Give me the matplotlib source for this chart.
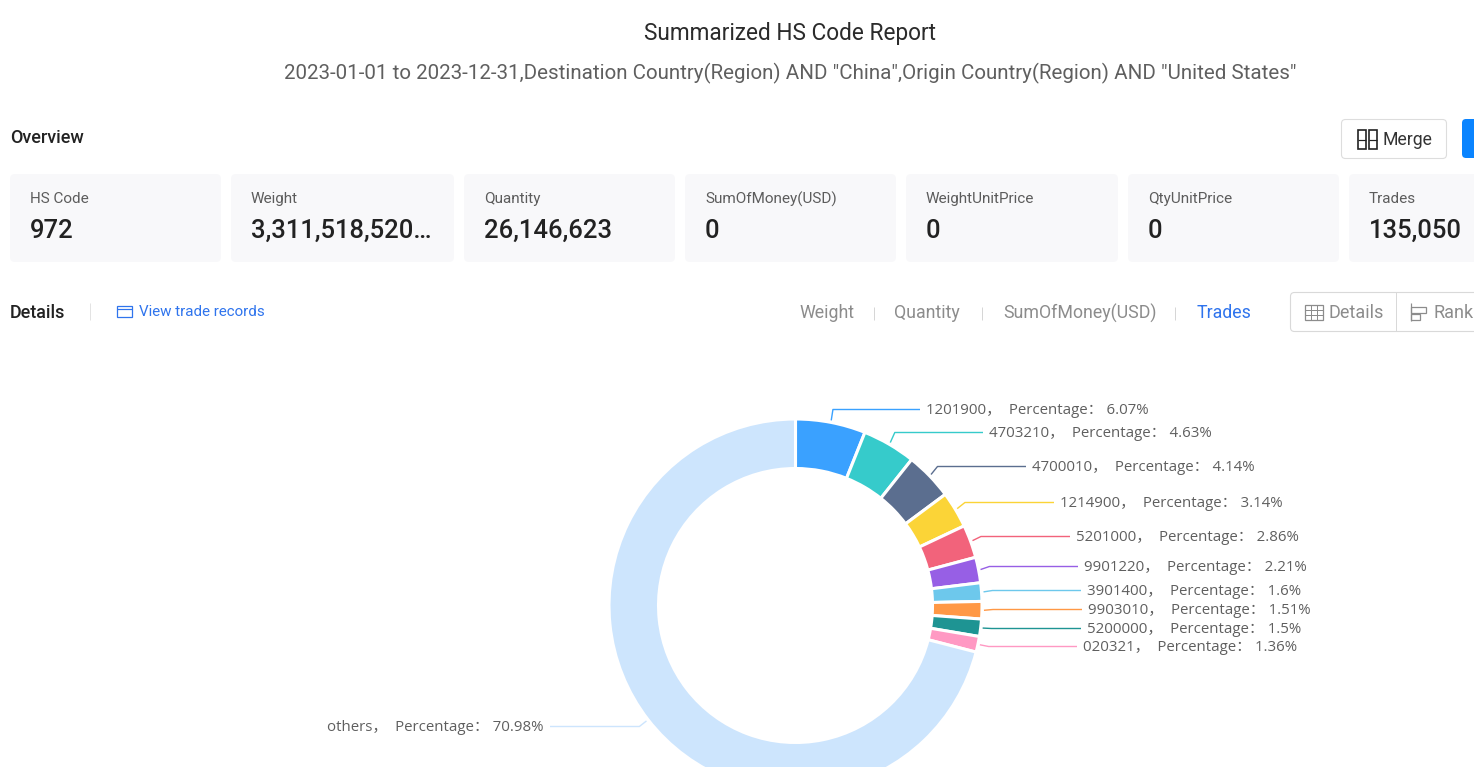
import numpy as np
import matplotlib
matplotlib.use("Agg")
import matplotlib.pyplot as plt
from matplotlib.patches import FancyBboxPatch, Rectangle

W, H = 1474, 767

# ---- data ----
codes = ["1201900", "4703210", "4700010", "1214900", "5201000",
         "9901220", "3901400", "9903010", "5200000", "020321", "others"]
percentages = [6.07, 4.63, 4.14, 3.14, 2.86, 2.21, 1.6, 1.51, 1.5, 1.36, 70.98]
percent_text = ["6.07%", "4.63%", "4.14%", "3.14%", "2.86%", "2.21%",
                "1.6%", "1.51%", "1.5%", "1.36%", "70.98%"]
colors = ["#3AA1FF", "#36CBCB", "#5B6E8F", "#FBD437", "#F2637B", "#975FE5",
          "#6DC8EC", "#FF9845", "#1E9493", "#FF99C3", "#CDE5FD"]
card_titles = ["HS Code", "Weight", "Quantity", "SumOfMoney(USD)",
               "WeightUnitPrice", "QtyUnitPrice", "Trades"]
card_values = ["972", "3,311,518,520…", "26,146,623", "0", "0", "0", "135,050"]
metric_tabs = ["Weight", "Quantity", "SumOfMoney(USD)", "Trades"]

# ---- layout (pixels) ----
cards_x = [(10, 221), (231, 454), (464, 675), (685, 896), (906, 1118), (1128, 1339), (1349, 1500)]
tabs_x = [799, 894.5, 1003, 1197]
label_y = [409, 432, 466, 502, 536, 566, 590, 609, 628, 646, 726]
label_x = [926, 989, 1032, 1060, 1076, 1084, 1087, 1088, 1087, 1083, 544]
line_end = [920, 983, 1026, 1054, 1070, 1078, 1081, 1082, 1081, 1077, 550]
cx, cy, R, r = 795.5, 605.5, 186.5, 137

plt.rcParams["font.family"] = ["Roboto", "DejaVu Sans"]
fig = plt.figure(figsize=(W / 100, H / 100), dpi=100, facecolor="white")
ax = fig.add_axes([0, 0, 1, 1])
Y = lambda py: H - py


def T(x, y, s, size, color="#333333", ha="left", weight="normal", family=None, **kw):
    if family:
        kw["family"] = family
    return ax.text(x, Y(y), s, fontsize=size * 0.72, color=color, ha=ha, va="center",
                   fontweight=weight, **kw)


def L(xs, ys, color, lw=1.0, **kw):
    ax.plot(xs, [Y(v) for v in ys], color=color, lw=lw * 0.72, solid_capstyle="butt", **kw)


def RR(x0, y0, x1, y1, rad, fc, ec="none", lw=0):
    ax.add_patch(FancyBboxPatch((x0 + rad, Y(y1) + rad), x1 - x0 - 2 * rad, y1 - y0 - 2 * rad,
                                boxstyle=f"round,pad={rad},rounding_size={rad}",
                                fc=fc, ec=ec, lw=lw, clip_on=True))


# ---- donut ----
ax.pie(percentages, colors=colors, center=(cx, Y(cy)), radius=R, startangle=90,
       counterclock=False, wedgeprops=dict(width=R - r, edgecolor="white", linewidth=2.2))
ax.set_xlim(0, W)
ax.set_ylim(0, H)
ax.set_aspect("equal")
ax.axis("off")

# ---- leader lines and labels ----
cum = np.cumsum([0] + percentages[:-1])
for i, (code, p, ptxt) in enumerate(zip(codes, percentages, percent_text)):
    a = np.deg2rad((cum[i] + p / 2) * 3.6)
    sx, sy = cx + (R + 2) * np.sin(a), cy - (R + 2) * np.cos(a)
    ex, ey = cx + (R + 11) * np.sin(a), label_y[i] + 0.5
    L([sx, ex, line_end[i]], [sy, ey, ey], colors[i], lw=1.4)
    txt = f"{code}，  Percentage： {ptxt}"
    T(label_x[i], label_y[i] + 1.6, txt, 15, "#5f5f5f", ha="right" if code == "others" else "left",
      family=["Open Sans", "Noto Sans CJK SC"])

# ---- header ----
T(790, 33.6, "Summarized HS Code Report", 22.6, "#2b2b2b", ha="center")
T(790, 73, '2023-01-01 to 2023-12-31,Destination Country(Region) AND "China",'
           'Origin Country(Region) AND "United States"', 20.5, "#5f5f5f", ha="center")
T(10, 138, "Overview", 18, "#222222", weight="medium")

# ---- buttons ----
RR(1341.5, 119.5, 1446.5, 158.5, 4, "white", "#dddddd", 0.8)
T(1383, 140, "Merge", 17.6, "#333333")
for x in (1358, 1369):
    ax.add_patch(Rectangle((x, Y(149)), 8, 19, fc="none", ec="#222222", lw=1.2))
L([1358, 1366], [139.5, 139.5], "#222222", 1.2)
L([1369, 1377], [139.5, 139.5], "#222222", 1.2)
RR(1462, 119, 1500, 158, 4, "#0A84FF")

# ---- cards ----
for (x0, x1), title, val in zip(cards_x, card_titles, card_values):
    RR(x0, 174, x1, 262, 5, "#F8F8FA")
    T(x0 + 20, 199, title, 15.3, "#5c5c5c")
    T(x0 + 20, 231, val, 25.6, "#222222", weight="medium")

# ---- details row ----
T(10, 313, "Details", 18, "#222222", weight="medium")
L([90, 90], [303, 320], "#e3e3e3")
ax.add_patch(Rectangle((117, Y(317)), 15, 11, fc="none", ec="#2f74ed", lw=0.9))
L([117, 132], [309, 309], "#2f74ed", 1.2)
T(139, 312, "View trade records", 15.1, "#2f74ed")
for x, t in zip(tabs_x, metric_tabs):
    T(x, 313, t, 17.8, "#2f74ed" if t == "Trades" else "#8c8c8c")
for x in (874, 982, 1175):
    L([x, x], [307, 320], "#d6d6d6")
RR(1290.5, 292.5, 1500, 331.5, 4, "white", "#d9d9d9", 0.8)
L([1396.5, 1396.5], [292, 331], "#d9d9d9")
T(1329, 313, "Details", 18, "#8c8c8c")
T(1434, 313, "Rank", 18, "#8c8c8c")
ax.add_patch(Rectangle((1305, Y(320)), 18, 15, fc="none", ec="#8c8c8c", lw=0.9))
for y in (310, 315):
    L([1305, 1323], [y, y], "#8c8c8c")
for x in (1311, 1317):
    L([x, x], [305, 320], "#8c8c8c")
L([1411, 1411], [303, 321], "#8c8c8c", 1.2)
ax.add_patch(Rectangle((1411, Y(313)), 15, 6, fc="none", ec="#8c8c8c", lw=0.9))
ax.add_patch(Rectangle((1411, Y(320)), 9, 6, fc="none", ec="#8c8c8c", lw=0.9))

fig.savefig("out.png", dpi=100, facecolor="white")
